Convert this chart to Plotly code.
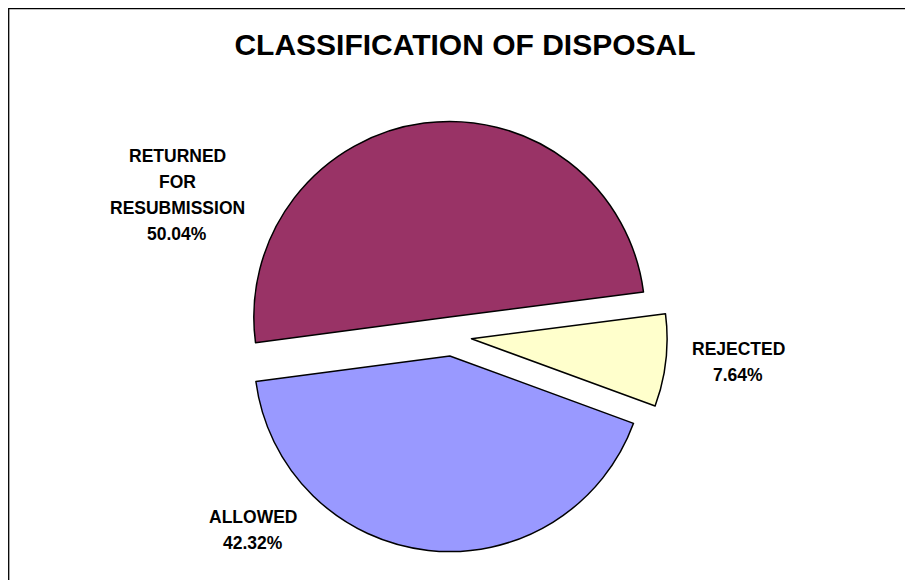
import plotly.graph_objects as go

# ---- data ----
categories = ["RETURNED FOR RESUBMISSION", "REJECTED", "ALLOWED"]
label_lines = [["RETURNED", "FOR", "RESUBMISSION"], ["REJECTED"], ["ALLOWED"]]
values = [50.04, 7.64, 42.32]
colors = ["#993366", "#FFFFCC", "#9999FF"]
title_text = "CLASSIFICATION OF DISPOSAL"

W, H = 913, 580
OFF = 8  # page body margin compensation
FONT = "Arial, Liberation Sans, sans-serif"


def px_x(p):
    return (p - OFF) / W


def px_y(p):
    return 1 - (p - OFF) / H


fig = go.Figure()
fig.add_trace(go.Pie(
    labels=categories,
    values=values,
    sort=False,
    direction="clockwise",
    rotation=-97.5,
    pull=[0.1, 0.1, 0.1],
    marker=dict(colors=colors, line=dict(color="black", width=1.5)),
    textinfo="none",
    hoverinfo="label+percent",
    showlegend=False,
    domain=dict(x=[px_x(12), px_x(892)], y=[px_y(551.7), px_y(121.3)]),
))

# label placement (pixel centres of each text block)
label_pos = [(177, 195), (738, 362), (253, 530)]
line_pitch = 26.3
annotations = []
for lines, val, (px, py) in zip(label_lines, values, label_pos):
    all_lines = lines + [f"{val:.2f}%"]
    n = len(all_lines)
    for i, t in enumerate(all_lines):
        yy = py + (i - (n - 1) / 2) * line_pitch
        annotations.append(dict(
            text=t, x=px_x(px), y=px_y(yy), xref="paper", yref="paper",
            xanchor="center", yanchor="middle", showarrow=False,
            font=dict(family=FONT, size=17.5, color="black", weight="bold"),
        ))

fig.update_layout(
    width=W, height=H,
    margin=dict(l=0, r=0, t=0, b=0),
    paper_bgcolor="white",
    plot_bgcolor="white",
    title=dict(text=title_text, x=px_x(465), y=px_y(44), xanchor="center", yanchor="middle",
               font=dict(family=FONT, size=30, color="black", weight="bold")),
    annotations=annotations,
    shapes=[dict(type="rect", xref="paper", yref="paper",
                 x0=0.7 / W, x1=1.05, y0=-0.05, y1=1 - 0.7 / H,
                 line=dict(color="black", width=1.3), fillcolor="rgba(0,0,0,0)", layer="below")],
)

fig.write_html("out.html")
